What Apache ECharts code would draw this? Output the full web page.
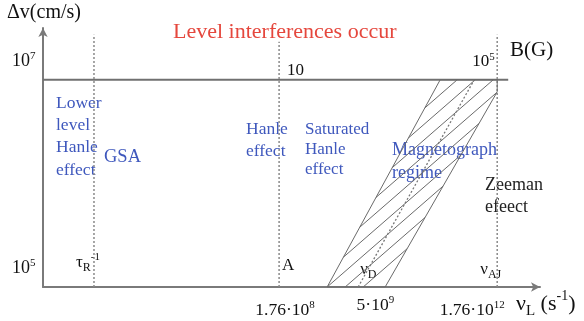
<!DOCTYPE html>
<html><head><meta charset="utf-8">
<script src="https://cdn.jsdelivr.net/npm/echarts@6/dist/echarts.min.js"></script>
<style>html,body{margin:0;padding:0;background:#fff}#c{width:584px;height:321px}</style>
</head><body><div id="c"></div>
<script>
// x: log10(nu_L / s^-1), y: log10(Δv / cm s^-1)
const xRange = [3.915, 13.03];
const yRange = [5, 7.5];
const yTicks = [5, 7];
const yTickLabels = ['10{s|5}', '10{s|7}'];
const xTicks = [8.245, 9.699, 12.245];
const xTickLabels = ['1.76·10{s|8}', '5·10{s|9}', '1.76·10{s|12}'];
// B(G) line at Δv = 10^7
const bLineX = [3.915, 12.447];
const bLineY = 7;
const bTicks = [8.245, 12.245];
const bTickLabels = ['10', '10{s|5}'];
// vertical markers: tau_R^-1, A, nu_AJ
const markerX = [4.85, 8.245, 12.245];
const markerTop = [7.435, 7.367, 7.435];
const markerLabels = ['τ{sub|R}{sup|-1}', 'A', 'ν{sub|AJ}'];
// magnetograph band
const bandX = [9.126, 11.199, 12.245, 12.245, 10.19, 9.126];
const bandY = [5, 7, 7, 6.884, 5, 5];
const dopplerX = [9.695, 11.823];
const dopplerY = [5, 7];
const hatchX1 = [10.919, 10.62, 10.32, 10.021, 9.722, 9.425, 9.126, 9.456, 9.787];
const hatchY1 = [6.729, 6.44, 6.152, 5.864, 5.576, 5.288, 5, 5, 5];
const hatchX2 = [11.511, 11.842, 12.172, 12.238, 11.909, 11.581, 11.251, 10.922, 10.592];
const hatchY2 = [7, 7, 7, 6.878, 6.577, 6.275, 5.973, 5.671, 5.369];

const FONT = '"Liberation Serif", "DejaVu Serif", serif';
const BLUE = '#3f58bd';
const RED = '#e5473d';
const GRAY = '#7a7a7a';

const chart = echarts.init(document.getElementById('c'), null, {renderer: 'canvas'});

const series = [];
series.push({type: 'line', data: bLineX.map(x => [x, bLineY]), showSymbol: false, silent: true,
  lineStyle: {color: '#707070', width: 2}});
markerX.forEach((x, i) => series.push({type: 'line', data: [[x, yRange[0]], [x, markerTop[i]]],
  showSymbol: false, silent: true, lineStyle: {color: '#8a8a8a', width: 1.5, type: [2, 2]}}));
series.push({type: 'line', data: bandX.map((x, i) => [x, bandY[i]]), showSymbol: false, silent: true,
  lineStyle: {color: '#6a6a6a', width: 1}});
hatchX1.forEach((x, i) => series.push({type: 'line', data: [[x, hatchY1[i]], [hatchX2[i], hatchY2[i]]],
  showSymbol: false, silent: true, lineStyle: {color: '#6a6a6a', width: 1}}));
series.push({type: 'line', data: dopplerX.map((x, i) => [x, dopplerY[i]]), showSymbol: false, silent: true,
  lineStyle: {color: '#777', width: 1.3, type: [2, 2]}});

chart.setOption({
  animation: false,
  backgroundColor: '#fff',
  grid: {left: 43, right: 44, top: 28, bottom: 34},
  xAxis: {type: 'value', min: xRange[0], max: xRange[1],
    axisLine: {lineStyle: {color: GRAY, width: 2}, symbol: ['none', 'arrow'], symbolSize: [7, 9]},
    axisTick: {show: false}, axisLabel: {show: false}, splitLine: {show: false}},
  yAxis: {type: 'value', min: yRange[0], max: yRange[1],
    axisLine: {lineStyle: {color: GRAY, width: 2}, symbol: ['none', 'arrow'], symbolSize: [7, 9]},
    axisTick: {show: false}, axisLabel: {show: false}, splitLine: {show: false}},
  series: series
});

function px(x, y) { return chart.convertToPixel({gridIndex: 0}, [x, y]); }
const supRich = (size) => ({
  s: {fontSize: Math.round(size * 0.62), fontFamily: FONT, verticalAlign: 'top', lineHeight: size},
  sup: {fontSize: Math.round(size * 0.62), fontFamily: FONT, verticalAlign: 'top', lineHeight: size},
  sub: {fontSize: Math.round(size * 0.7), fontFamily: FONT, verticalAlign: 'bottom', lineHeight: size * 1.3}
});
function txt(text, x, y, opt) {
  opt = opt || {};
  const size = opt.size || 15;
  return {type: 'text', x: x, y: y, silent: true, style: {
    text: text, fill: opt.color || '#111', font: size + 'px ' + FONT,
    fontSize: size, fontFamily: FONT,
    align: opt.align || 'left', verticalAlign: opt.va || 'middle',
    lineHeight: opt.lh || size * 1.15, rich: supRich(size)}};
}

const g = [];
g.push(txt('Δv(cm/s)', 7, 13, {size: 20}));
yTicks.forEach((v, i) => { const p = px(xRange[0], v); g.push(txt(yTickLabels[i], 12, p[1] - 19, {size: 18})); });
xTicks.forEach((v, i) => {
  const p = px(v, yRange[0]);
  const dx = [6, 17, -25][i], dy = [23, 18, 23][i];
  g.push(txt(xTickLabels[i], p[0] + dx, p[1] + dy, {size: 17.5, align: 'center'}));
});
bTicks.forEach((v, i) => { const p = px(v, bLineY); g.push(txt(bTickLabels[i], p[0] + [8, -25][i], p[1] + [-9, -18][i], {size: 17})); });
markerX.forEach((v, i) => {
  const p = px(v, yRange[0]);
  g.push(txt(markerLabels[i], p[0] + [-18, 3, -17][i], p[1] + [-24, -21, -17][i], {size: 17}));
});
(function () { const p = px(dopplerX[0], yRange[0]); g.push(txt('ν{sub|D}', p[0] + 2, p[1] - 17, {size: 17})); })();
g.push(txt('ν{sub|L} (s{sup|-1})', 516, 304, {size: 22}));
g.push(txt('B(G)', 510, 50, {size: 21}));
g.push(txt('Level interferences occur', 173, 32, {size: 22, color: RED}));
g.push(txt('Lower\nlevel\nHanle\neffect', 56, 92, {size: 17.5, color: BLUE, va: 'top', lh: 22.3}));
g.push(txt('GSA', 104, 157, {size: 18.5, color: BLUE}));
g.push(txt('Hanle\neffect', 246, 118, {size: 17.5, color: BLUE, va: 'top', lh: 22}));
g.push(txt('Saturated\nHanle\neffect', 305, 120, {size: 17, color: BLUE, va: 'top', lh: 20}));
g.push(txt('Magnetograph\nregime', 392, 139, {size: 18, color: BLUE, va: 'top', lh: 23}));
g.push(txt('Zeeman\nefeect', 485, 174, {size: 18, color: '#222', va: 'top', lh: 22}));

chart.setOption({graphic: {elements: g}});
</script></body></html>
